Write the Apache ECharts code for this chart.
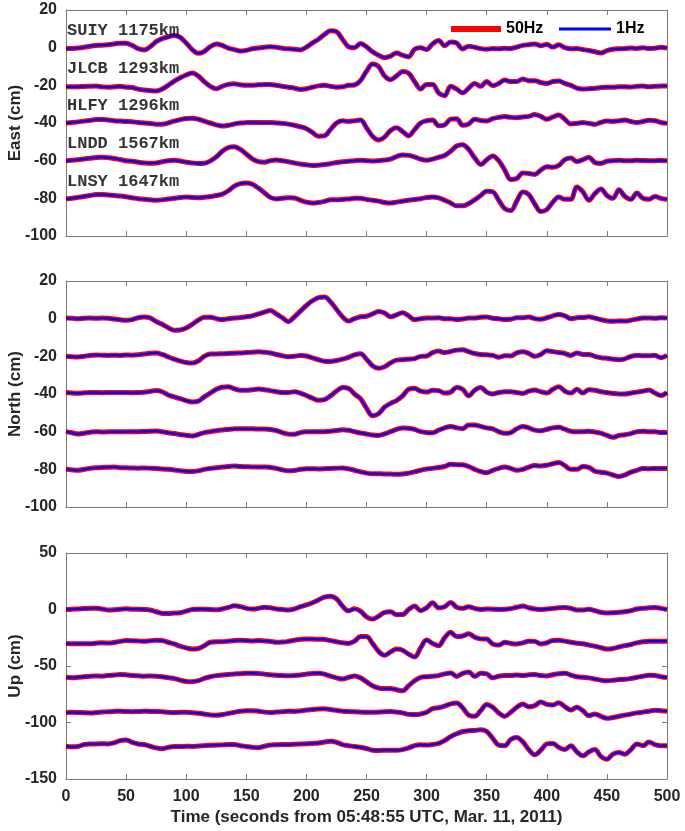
<!DOCTYPE html>
<html><head><meta charset="utf-8">
<script src="https://cdn.jsdelivr.net/npm/echarts/dist/echarts.min.js"></script>
<style>html,body{margin:0;padding:0;background:#fff}#c{width:685px;height:831px}</style>
</head><body><div id="c"></div><script>
// time samples (s)
const times=[0,5,10,15,20,25,30,35,40,45,50,55,60,65,70,75,80,85,90,95,100,105,110,115,120,125,130,135,140,145,150,155,160,165,170,175,180,185,190,195,200,205,210,215,220,225,230,235,240,245,250,255,260,265,270,275,280,285,290,295,300,305,310,315,320,325,330,335,340,345,350,355,360,365,370,375,380,385,390,395,400,405,410,415,420,425,430,435,440,445,450,455,460,465,470,475,480,485,490,495,500];
const stations=['SUIY 1175km','JLCB 1293km','HLFY 1296km','LNDD 1567km','LNSY 1647km'];
const horizOffsets=[0,-20,-40,-60,-80];
const upOffsets=[0,-30,-60,-90,-120];
const panelNames=['East (cm)','North (cm)','Up (cm)'];
const legendNames=['50Hz','1Hz'];
const xTitle='Time (seconds from 05:48:55 UTC, Mar. 11, 2011)';

// East component deviations (cm) from each station's offset
const eastSUIY=[-0.5,-0.4,-0.2,0.2,0.8,1.2,1.3,1.6,2.0,2.4, 2.3,1.2,-0.5,-1.2,0.5,3.2,4.8,5.8,6.5,5.5, 2.5,-1.0,-3.0,-2.0,0.5,2.0,1.2,-0.2,-1.0,-1.8, -1.4,-0.6,-0.2,0.2,0.5,0.2,-0.3,-0.6,-0.9,-1.2, 0.3,2.5,4.5,7.0,9.0,8.5,4.5,0.5,0.0,2.2, 0.5,-2.2,-4.0,-5.3,-4.5,-2.8,-4.0,-4.8,-0.8,0.0, -1.0,2.0,3.8,1.0,3.0,2.5,-0.7,0.8,0.2,-0.5, -0.8,-0.5,-0.6,-0.3,-0.5,0.3,1.2,1.6,2.0,1.0, 1.8,0.3,1.5,0.0,-0.6,-0.5,-1.0,-1.5,-2.2,-2.8, -1.6,-0.8,-0.6,-0.5,-0.2,-0.4,0.0,-0.5,-0.3,0.2, -0.3];
const eastJLCB=[-0.8,-0.8,-0.7,-0.6,-0.5,-0.4,-0.8,-1.0,-0.8,-0.5, -1.0,-1.2,-2.0,-2.5,-2.8,-3.0,-2.0,0.0,2.2,4.0, 5.5,6.5,5.0,2.0,-0.5,-1.8,-0.5,0.5,0.8,0.3, 0.0,0.0,0.3,0.4,0.5,0.0,-0.5,-1.0,-1.5,-2.2, -1.8,-1.0,-0.3,0.0,-0.5,-1.0,-0.8,0.0,0.2,2.5, 7.5,11.3,10.0,5.0,3.0,5.0,7.3,6.5,2.0,-2.0, 0.5,0.5,-4.0,-5.5,-0.5,-2.0,-4.0,-1.5,1.0,-0.5, 2.0,-0.2,1.0,2.8,2.0,2.0,3.4,2.5,2.5,1.5, 1.0,2.0,2.3,1.0,0.0,-1.5,-2.0,-1.8,-1.6,-1.2, -1.0,-1.0,-0.8,-0.8,-0.9,-0.5,-0.4,-0.8,-0.5,-0.4, -0.3];
const eastHLFY=[0.0,0.3,0.6,1.0,1.4,1.8,1.9,1.6,1.2,1.0, 0.8,0.7,0.3,0.0,-0.3,-0.6,-0.6,0.0,1.0,1.8, 2.4,2.5,2.0,1.0,0.0,-1.0,-1.6,-1.2,-0.5,0.0, 0.2,0.3,0.3,0.2,0.2,0.0,-0.2,-0.6,-1.2,-2.0, -3.0,-5.0,-7.0,-6.8,-3.5,0.0,1.2,0.8,1.2,1.6, -2.5,-7.0,-9.0,-7.5,-4.0,-2.5,-4.5,-6.8,-3.5,0.0, 1.2,1.6,-1.5,-1.0,2.0,2.3,-1.2,-0.5,2.0,1.3, 1.1,2.3,3.0,3.4,3.0,2.8,3.2,3.5,4.5,3.5, 2.0,3.2,4.2,2.0,-0.5,-0.2,0.2,-0.2,-0.7,0.3, 1.1,0.8,1.2,1.6,0.8,0.2,0.8,1.5,1.2,0.3, -0.2];
const eastLNDD=[0.0,0.2,0.5,0.9,1.3,1.7,1.8,1.6,1.2,0.6, 0.0,-0.3,-0.8,-1.2,-1.4,-1.2,-0.6,0.0,0.2,-0.2, -0.8,-1.2,-1.5,-1.4,-0.2,2.0,5.0,7.0,7.4,6.0, 3.5,1.0,-0.5,-0.8,0.0,0.4,0.0,-0.6,-1.2,-1.8, -2.2,-2.6,-2.4,-2.0,-1.6,-1.0,-0.6,-0.3,0.0,0.2, 0.0,-0.2,0.0,0.3,0.8,2.2,3.0,2.8,2.0,0.8, 0.2,0.8,1.8,2.8,5.0,7.8,8.5,6.0,1.5,-2.0, 0.5,2.5,0.0,-5.0,-10.0,-9.5,-6.5,-6.8,-7.3,-5.0, -3.2,-3.5,-2.5,0.5,1.4,-0.5,0.5,1.8,-1.0,-1.5, -0.3,0.0,0.2,0.0,0.0,0.2,0.1,0.0,0.0,0.1, 0.0];
const eastLNSY=[-0.3,0.0,0.5,1.0,1.5,2.0,2.1,1.8,1.5,1.2, 0.8,0.3,-0.2,-0.5,-0.8,-1.0,-0.8,-0.4,0.0,0.4, 0.7,0.5,0.3,0.6,1.0,1.5,2.2,4.0,6.5,7.8, 8.1,7.5,5.5,3.0,0.5,-0.3,0.0,0.3,0.2,-1.0, -2.0,-2.5,-2.2,-1.6,-0.8,-0.8,-0.6,-0.3,0.0,0.0, -0.6,-1.0,-1.5,-2.2,-2.5,-2.0,-1.5,-1.0,-0.6,-0.2, 0.4,0.7,0.2,-1.0,-2.5,-4.0,-4.0,-2.8,-0.8,1.5, 3.8,3.5,-1.0,-5.5,-6.5,-1.5,3.4,2.0,-3.0,-7.0, -6.0,-2.0,0.7,-0.5,-0.5,6.0,3.5,-1.0,2.5,5.0, 1.5,0.0,4.5,1.0,-0.5,2.8,0.0,-0.5,1.0,0.0, -0.6];

// North component deviations (cm)
const northSUIY=[0.3,0.2,0.0,0.2,0.3,0.2,0.3,0.2,-0.2,-0.6, -0.9,-0.5,0.5,0.9,0.4,-1.5,-3.0,-4.8,-6.2,-6.0, -5.0,-3.0,-0.8,0.7,0.8,0.0,-0.5,0.0,0.3,0.6, 1.0,1.5,2.5,3.5,4.3,2.5,0.5,-1.6,1.0,4.0, 7.0,9.5,11.2,11.5,9.0,5.0,1.0,-1.3,0.0,1.0, 1.3,2.5,3.8,3.0,1.0,2.0,3.2,1.5,-0.5,0.0, 0.3,0.3,0.5,0.0,0.0,-0.5,-0.2,0.3,0.3,0.8, 0.9,0.2,0.0,-0.5,-0.3,0.5,0.5,0.9,0.0,-0.3, 0.5,1.5,2.2,1.5,0.0,0.5,0.6,1.0,0.3,-0.5, -1.2,-1.4,-1.2,-1.3,-0.8,-0.2,0.3,0.4,0.2,0.5, 0.3];
const northJLCB=[0.0,-0.2,-0.3,0.0,0.5,0.7,0.6,0.5,0.6,0.5, 0.7,0.6,0.8,1.2,1.6,1.8,1.0,-0.3,-1.5,-2.5, -3.3,-3.6,-2.5,0.0,1.2,1.3,1.4,1.5,1.7,1.8, 2.0,2.2,2.4,2.2,1.8,1.0,0.3,-0.2,0.0,0.5, 0.2,-0.8,-1.8,-2.6,-2.7,-2.2,-1.5,-0.5,0.8,1.4, -1.5,-5.0,-6.3,-5.5,-3.5,-2.0,-1.8,-1.5,-1.2,0.0, 0.2,2.0,2.8,2.0,2.6,3.3,3.5,2.5,1.5,1.0, 0.8,0.5,-0.5,0.3,0.2,1.8,2.5,1.5,0.0,1.0, 3.0,2.5,2.0,1.5,0.5,1.8,1.0,1.0,0.0,-0.8, -1.0,-1.5,-1.8,-1.3,0.0,0.5,0.3,0.3,0.5,-0.7, 0.5];
const northHLFY=[0.9,0.5,0.4,0.6,0.8,0.8,0.7,0.8,0.8,0.8, 0.8,0.7,0.8,0.9,1.4,1.8,1.2,-0.5,-1.5,-2.5, -3.5,-4.2,-3.8,-1.5,0.5,2.5,3.6,3.8,2.8,2.0, 2.0,2.3,2.6,2.3,1.8,1.2,0.8,0.8,1.2,0.5, -0.8,-2.2,-3.3,-3.0,-1.0,1.5,3.4,3.0,0.0,-2.5, -7.5,-11.5,-10.5,-7.0,-5.0,-3.5,-1.0,2.5,3.0,1.5, 1.0,2.0,1.8,0.5,1.0,3.5,2.5,-1.0,2.0,3.5, 1.0,0.0,0.8,1.2,1.2,0.8,0.3,1.5,2.1,1.2, 0.5,2.5,3.8,1.5,0.5,2.5,0.5,2.3,2.0,1.2, 0.8,0.3,0.0,0.0,0.5,1.0,1.5,2.1,0.5,-0.8, 0.8];
const northLNDD=[0.0,-0.6,-1.2,-0.8,-0.3,0.0,-0.2,-0.1,0.0,-0.1, 0.0,0.0,0.0,0.1,0.2,0.3,0.0,-0.6,-1.0,-1.5, -2.0,-2.3,-1.5,-0.5,0.0,0.5,0.9,1.2,1.5,1.6, 1.5,1.5,1.4,1.4,1.2,0.6,-0.5,-1.3,-1.4,-0.5, -0.1,0.0,0.0,0.0,0.2,0.6,1.0,0.8,0.0,-0.7, -1.2,-1.8,-2.0,-1.2,0.0,1.2,2.0,1.8,1.2,0.0, -0.5,-0.6,0.8,2.0,2.8,2.0,1.6,3.5,3.5,2.8, 2.0,1.5,0.0,-0.9,-0.5,1.5,2.8,2.0,0.8,0.5, 1.2,2.0,2.3,1.3,0.2,-0.1,0.0,0.2,-0.2,-0.8, -2.0,-3.0,-2.0,-1.6,-1.0,0.0,0.2,0.0,0.0,-0.5, -0.5];
const northLNSY=[0.0,-0.3,-0.5,0.0,0.5,0.8,1.0,1.1,1.2,0.9, 0.8,0.7,0.6,0.7,0.6,0.5,0.2,0.0,-0.3,-0.7, -1.1,-1.2,-0.8,0.0,0.5,0.8,1.2,1.5,1.8,1.5, 1.4,1.3,1.2,1.3,1.0,0.5,-0.3,-0.8,-0.6,0.0, 0.3,0.3,0.2,0.3,0.5,0.6,0.7,0.3,-0.5,-1.3, -2.0,-2.3,-2.3,-2.5,-2.5,-2.6,-2.5,-2.0,-1.3,-0.5, 0.2,0.5,1.0,1.5,2.7,2.5,2.4,1.5,0.0,-1.2, -1.8,-0.5,0.5,1.2,0.5,-0.5,0.0,1.2,2.0,1.8, 2.2,3.0,3.6,2.0,0.0,0.0,1.5,1.0,-1.0,-1.5, -2.0,-3.0,-3.8,-3.0,-1.5,-0.5,0.5,0.3,0.5,0.5, 0.5];

// Up component deviations (cm)
const upSUIY=[0.0,0.3,0.5,0.8,1.0,1.2,0.5,-0.5,-0.3,0.3, 0.6,0.3,0.3,0.0,-0.5,-2.0,-3.5,-3.6,-3.2,-2.8, -1.5,0.0,0.3,0.2,0.0,-0.3,0.5,1.8,3.3,2.5, 1.0,0.5,1.0,2.0,1.5,0.5,0.0,-0.5,0.5,2.5, 4.0,6.0,8.5,11.0,11.8,9.5,3.0,-1.2,0.6,-1.5, -6.5,-8.5,-6.0,-2.5,-2.0,-4.5,-4.5,0.0,3.0,-1.0, 1.5,6.0,1.5,2.5,6.3,2.0,1.0,2.4,1.0,0.0, 0.5,0.3,0.0,0.2,0.8,2.0,3.0,1.5,0.5,0.0, 0.5,1.0,1.5,1.8,1.0,-0.5,-0.5,0.3,-1.0,-2.5, -3.0,-2.8,-2.5,-2.0,-1.0,0.5,1.0,1.5,1.8,1.0, 0.0];
const upJLCB=[0.0,-0.2,-0.3,-0.2,-0.3,0.2,0.5,0.3,0.8,1.8, 2.5,2.4,2.2,1.8,2.3,2.7,2.5,1.0,-0.5,-2.5, -4.0,-5.0,-4.5,-2.0,1.0,1.5,1.5,2.0,2.5,2.7, 2.5,2.2,2.5,2.2,1.8,1.0,1.2,1.8,2.8,3.5, 3.9,3.8,3.6,3.5,2.5,1.5,0.5,0.0,2.0,6.0, 6.0,0.0,-7.0,-10.5,-7.5,-5.0,-6.0,-9.5,-12.0,-4.0, 3.0,0.0,-2.0,5.0,9.8,6.0,6.5,8.5,5.5,4.0, 3.8,-0.5,-1.5,1.0,0.0,-0.5,0.5,2.0,1.8,-0.5, 0.5,2.5,2.7,2.0,1.0,0.2,-0.3,-1.5,-2.5,-3.8, -5.0,-4.5,-3.2,-2.0,-1.0,0.5,1.5,2.0,1.8,2.0, 2.0];
const upHLFY=[0.0,-0.3,0.0,0.5,1.0,1.2,1.0,1.5,2.0,2.4, 2.2,1.5,1.3,1.0,1.2,1.0,0.5,-0.3,-1.0,-2.5, -3.7,-3.9,-3.0,-1.0,0.5,1.5,2.0,2.5,3.0,3.2, 3.5,3.6,3.3,2.8,2.2,1.8,1.5,1.3,1.5,2.0, 2.8,3.4,3.6,2.8,1.0,-0.5,-1.5,0.0,1.2,-0.5, -4.0,-7.5,-9.5,-10.0,-10.0,-11.0,-12.0,-7.5,-3.0,0.0, 0.5,1.0,1.5,3.0,3.8,0.8,3.5,4.8,0.8,3.5, 3.0,-0.5,1.0,1.5,1.5,2.0,1.5,2.2,2.5,1.5, 1.2,2.3,3.2,3.6,2.0,0.5,0.0,-0.5,-1.5,-2.5, -3.0,-2.6,-2.0,-1.8,-1.0,0.0,1.0,1.8,1.5,0.5, -0.3];
const upLNDD=[-1.2,-1.0,-1.2,-1.3,-1.5,-1.2,-0.8,-0.5,-0.2,0.0, -0.3,-0.5,-0.3,0.0,-0.2,-0.3,-0.5,-1.0,-1.2,-1.0, -1.0,-1.3,-1.8,-2.5,-3.3,-3.6,-3.0,-2.0,-1.0,0.0, 0.5,0.5,0.0,-0.8,-1.2,-0.8,-0.5,0.0,-0.2,0.3, 1.0,1.5,2.0,2.1,1.5,0.8,0.0,-0.3,-0.5,-0.8, -1.0,-1.0,-0.8,-0.5,-0.3,-0.8,-1.5,-2.8,-3.0,-2.5, -1.0,2.2,3.0,4.5,6.5,7.2,3.0,-3.5,-4.5,0.5, 5.9,3.5,-1.5,-4.5,-1.0,3.5,6.3,4.0,5.0,8.2, 6.0,5.5,7.4,4.0,1.0,3.5,0.5,-4.0,-2.5,-4.5, -6.3,-5.5,-4.5,-3.5,-2.5,-1.5,-0.8,0.0,0.8,0.5, 0.0];
const upLNSY=[-1.0,-1.5,-1.2,0.5,1.0,1.0,1.2,1.0,2.0,4.0, 4.5,2.5,1.0,0.5,-1.0,-2.5,-3.2,-2.0,-1.2,-1.3, -1.0,-1.2,-0.8,-0.5,-0.2,0.0,0.2,0.5,0.5,-0.5, -1.2,-2.0,-2.4,-1.0,0.0,0.3,0.5,0.5,0.8,1.0, 1.2,1.5,1.8,2.8,3.5,2.5,0.5,-0.5,-1.2,-2.0, -3.0,-4.5,-4.7,-4.5,-4.5,-4.6,-4.0,-2.5,-0.5,0.2, 0.0,0.5,1.5,4.0,7.5,10.0,12.0,12.8,13.0,13.5, 12.0,6.0,0.0,-0.5,5.0,6.8,3.0,-4.0,-8.5,-4.5, 1.0,1.5,-2.0,-4.0,-0.5,-6.0,-9.5,-6.0,-4.0,-10.0, -12.5,-8.0,-6.5,-8.0,-4.0,1.0,-0.5,2.7,0.5,-0.5, -0.5];

const panels=[
  {name:panelNames[0], offsets:horizOffsets, traces:[eastSUIY,eastJLCB,eastHLFY,eastLNDD,eastLNSY], min:-100, max:20, interval:20},
  {name:panelNames[1], offsets:horizOffsets, traces:[northSUIY,northJLCB,northHLFY,northLNDD,northLNSY], min:-100, max:20, interval:20},
  {name:panelNames[2], offsets:upOffsets, traces:[upSUIY,upJLCB,upHLFY,upLNDD,upLNSY], min:-150, max:50, interval:50}
];

const FONT='"Liberation Sans", Arial, sans-serif';
const TXT='#262626';
const FRAME='#7a7a7a';
const gridTops=[10,281,553];
const grid=gridTops.map(t=>({left:66,right:18,top:t,height:226,containLabel:false,outerBoundsMode:'none'}));
const xAxis=[], yAxis=[], series=[];
panels.forEach((p,pi)=>{
  const common={gridIndex:pi,type:'value',min:0,max:500,interval:50,splitLine:{show:false},
    axisLine:{show:true,onZero:false,lineStyle:{color:FRAME,width:1}},
    axisTick:{show:true,inside:true,length:5,lineStyle:{color:FRAME}}};
  xAxis.push(Object.assign({},common,{position:'bottom',
    axisLabel:{show:pi===2,margin:10,fontFamily:FONT,fontSize:16,fontWeight:'bold',color:TXT},
    name:pi===2?xTitle:'',nameLocation:'middle',nameGap:30,nameMoveOverlap:false,
    nameTextStyle:{fontFamily:FONT,fontSize:17,fontWeight:'bold',color:TXT}}));
  xAxis.push(Object.assign({},common,{position:'top',axisLabel:{show:false}}));
  const yc={gridIndex:pi,type:'value',min:p.min,max:p.max,interval:p.interval,splitLine:{show:false},
    axisLine:{show:true,onZero:false,lineStyle:{color:FRAME,width:1}},
    axisTick:{show:true,inside:true,length:5,lineStyle:{color:FRAME}}};
  yAxis.push(Object.assign({},yc,{position:'left',
    axisLabel:{margin:9,fontFamily:FONT,fontSize:16,fontWeight:'bold',color:TXT},
    name:p.name,nameLocation:'middle',nameGap:42,nameMoveOverlap:false,
    nameTextStyle:{fontFamily:FONT,fontSize:17,fontWeight:'bold',color:TXT}}));
  yAxis.push(Object.assign({},yc,{position:'right',axisLabel:{show:false}}));
  p.traces.forEach((tr,k)=>{
    const data=times.map((t,i)=>[t,p.offsets[k]+tr[i]]);
    series.push({type:'line',name:legendNames[0],xAxisIndex:2*pi,yAxisIndex:2*pi,data:data,
      symbol:'none',smooth:0.35,clip:false,silent:true,z:2,
      lineStyle:{color:'#ff0000',width:5},itemStyle:{color:'#ff0000'}});
    series.push({type:'line',name:legendNames[1],xAxisIndex:2*pi,yAxisIndex:2*pi,data:data,
      symbol:'none',smooth:0.35,clip:false,silent:true,z:3,
      lineStyle:{color:'#0000ff',width:2.3},itemStyle:{color:'#0000ff'}});
  });
});
series.push({type:'scatter',xAxisIndex:0,yAxisIndex:0,symbolSize:0,clip:false,silent:true,z:10,
  data:stations.map((s,i)=>({value:[0,horizOffsets[i]+9],label:{formatter:s}})),
  label:{show:true,position:'right',distance:1,fontFamily:'"Liberation Mono", "Courier New", monospace',
    fontSize:17,fontWeight:'bold',color:'#000'}});

const legendText={fontFamily:FONT,fontSize:16,fontWeight:'bold',color:'#000'};
const option={
  animation:false,
  backgroundColor:'#fff',
  grid:grid, xAxis:xAxis, yAxis:yAxis, series:series,
  legend:[
    {data:[{name:legendNames[0],icon:'rect'}],left:451,top:21,itemWidth:50,itemHeight:6,itemGap:0,padding:0,textStyle:legendText,selectedMode:false},
    {data:[{name:legendNames[1],icon:'rect'}],left:559,top:21,itemWidth:52,itemHeight:3,itemGap:0,padding:0,textStyle:legendText,selectedMode:false}
  ]
};
const chart=echarts.init(document.getElementById('c'),null,{renderer:'canvas'});
chart.setOption(option);
</script></body></html>
